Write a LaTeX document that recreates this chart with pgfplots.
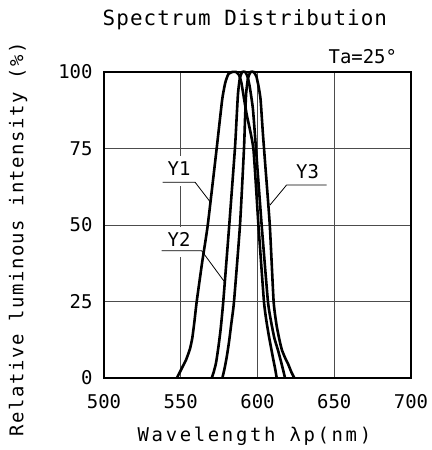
\documentclass[border=0pt]{standalone}
\usepackage{fontspec}
\usepackage{pgfplots}
\pgfplotsset{compat=1.18}
\newfontfamily\cad{DejaVu Sans Mono}
\newfontfamily\cadwide[LetterSpace=8]{DejaVu Sans Mono}
\newfontfamily\cadwider[LetterSpace=14]{DejaVu Sans Mono}
\newfontfamily\cadtitle[LetterSpace=5]{DejaVu Sans Mono}

\begin{document}
\begin{tikzpicture}
\path[use as bounding box] (0,0) rectangle (432bp,450bp);
\begin{axis}[
    at={(104bp,72bp)}, anchor=south west,
    scale only axis, width=307bp, height=306bp,
    xmin=500, xmax=700, ymin=0, ymax=100,
    xtick={500,550,600,650,700},
    ytick={0,25,50,75,100},
    major tick length=0pt,
    grid=major,
    grid style={black!70, line width=0.8bp},
    axis line style={black, line width=1.1bp},
    /pgf/number format/assume math mode=true,
    tick label style={font=\cad\fontsize{19}{19}\selectfont},
    xticklabel style={yshift=-13bp},
    yticklabel style={xshift=-8bp},
    title={Spectrum Distribution},
    title style={font=\cadtitle\fontsize{21}{21}\selectfont, at={(rel axis cs:0.459,1)}, anchor=base, yshift=41bp},
    xlabel={Wavelength λp(nm)},
    xlabel style={font=\cadwider\fontsize{19}{19}\selectfont, at={(rel axis cs:0.49,0)}, anchor=center, yshift=-58bp},
    ylabel={Relative luminous intensity (\%)},
    ylabel style={font=\cadwide\fontsize{19}{19}\selectfont, at={(rel axis cs:-0.28,0.454)}, rotate=0, anchor=center},
    clip=false,
]
% Y1
\addplot[black, line width=2.6bp, smooth, tension=0.3] coordinates {
    (547.5,0) (549,1.5) (551,3.5) (553.5,6) (556,9.5) (557.5,13) (558.8,18)
    (560.4,25) (564,38) (567.6,50) (573.4,75) (577,91) (579,96.5)
    (581,99.3) (583.5,100) (586,100) (588,99) (589.5,96.5) (591,92) (593,86)
    (597.3,75) (600.6,50) (604.2,25) (606,18) (607.5,13.5) (608.8,10)
    (610.3,6) (611.5,3) (612.5,0)
};
% Y2
\addplot[black, line width=2.6bp, smooth, tension=0.3] coordinates {
    (570.2,0) (571.5,2) (573,5) (574.5,10) (576,16) (577.7,25) (581.6,50)
    (585.3,75) (586.4,85) (587.3,93) (588.5,98) (590,100) (592,100)
    (593.5,98.5) (595,95) (597,88) (599,75) (602.7,50) (606.8,25) (609,18)
    (611,13) (613.4,9) (615.5,5) (617,2) (617.9,0)
};
% Y3
\addplot[black, line width=2.6bp, smooth, tension=0.3] coordinates {
    (577.1,0) (578.5,3) (580,7) (581.5,12) (583,18) (584.7,25) (588.6,50)
    (591.2,75) (591.9,85) (592.6,93) (593.8,98) (595.5,100) (597.5,100)
    (599.3,98.5) (600.8,95) (602,91) (603.5,80) (605,70) (608,50)
    (610.5,25) (612.5,17) (614.5,12) (616,9) (618.5,6) (620,4.5) (622,2)
    (624,0)
};
% gaps in the 550 grid line behind the labels
\fill[white] (axis cs:548.7,62.7) rectangle (axis cs:551.3,72.5);
\fill[white] (axis cs:548.7,39.5) rectangle (axis cs:551.3,49.2);
% labels with leaders
\node[font=\cad\fontsize{19}{19}\selectfont, inner sep=0pt] at (axis cs:548.9,68.3) {Y1};
\draw[black, line width=0.8bp] (axis cs:538.2,64.0) -- (axis cs:559.3,64.0) -- (axis cs:569.1,57.6);
\node[font=\cad\fontsize{19}{19}\selectfont, inner sep=0pt] at (axis cs:548.9,45.2) {Y2};
\draw[black, line width=0.8bp] (axis cs:537.6,41.6) -- (axis cs:563.6,41.6) -- (axis cs:578.4,31.5);
\node[font=\cad\fontsize{19}{19}\selectfont, inner sep=0pt] at (axis cs:632.6,67.6) {Y3};
\draw[black, line width=0.8bp] (axis cs:645.1,63.1) -- (axis cs:619.0,63.1) -- (axis cs:608.1,56.5);
\node[font=\cad\fontsize{19}{19}\selectfont, inner sep=0pt, anchor=east] at (axis cs:691,104.9) {Ta=25°};
\end{axis}
\end{tikzpicture}
\end{document}
